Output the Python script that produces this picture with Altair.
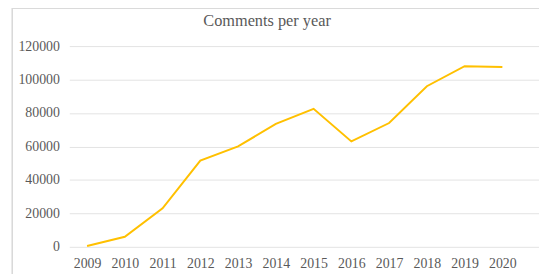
import altair as alt
import pandas as pd

years = [2009, 2010, 2011, 2012, 2013, 2014, 2015, 2016, 2017, 2018, 2019, 2020]
comments = [500, 6000, 23000, 51500, 60000, 73500, 82500, 63000, 74000, 96000, 108000, 107500]
y_ticks = [0, 20000, 40000, 60000, 80000, 100000, 120000]
title_text = "Comments per year"

df = pd.DataFrame({"year": years, "comments": comments})
FONT = "Liberation Serif"
GRAY = "#595959"

x_enc = alt.X("year:Q", scale=alt.Scale(domain=[2008.53, 2020.97], nice=False, zero=False),
              axis=alt.Axis(values=years, format="d", title=None, grid=False, domain=False,
                            ticks=False, labelPadding=10, labelFlush=False,
                            labelFont=FONT, labelFontSize=14, labelColor=GRAY))
y_enc = alt.Y("comments:Q", scale=alt.Scale(domain=[0, 120000], nice=False),
              axis=alt.Axis(values=y_ticks, format="d", title=None, domain=False, ticks=False,
                            gridColor="#e3e3e3", gridWidth=1, labelPadding=10,
                            labelFont=FONT, labelFontSize=14, labelColor=GRAY))

line = alt.Chart(df).mark_line(color="#FFC000", strokeWidth=2).encode(x=x_enc, y=y_enc)

border = alt.Chart(df).mark_rect(fill=None, stroke="#d9d9d9", strokeWidth=1).encode(
    x=alt.value(-57.5), x2=alt.value(600), y=alt.value(-38.5), y2=alt.value(300)
)

title = alt.Chart(pd.DataFrame({"t": [title_text]})).mark_text(
    font=FONT, fontSize=16.5, color=GRAY, align="center", baseline="middle"
).encode(text="t:N", x=alt.value(200), y=alt.value(-25))

chart = alt.layer(line, border, title).properties(
    width=475, height=203,
    padding={"left": 62, "top": 37, "right": 0, "bottom": 30},
    autosize=alt.AutoSizeParams(type="none"),
).configure(font=FONT).configure_view(stroke=None).configure_axis(
    labelFont=FONT, labelFontSize=14, labelColor=GRAY
)

chart.save("out.html", embed_options={"renderer": "svg", "actions": False})
